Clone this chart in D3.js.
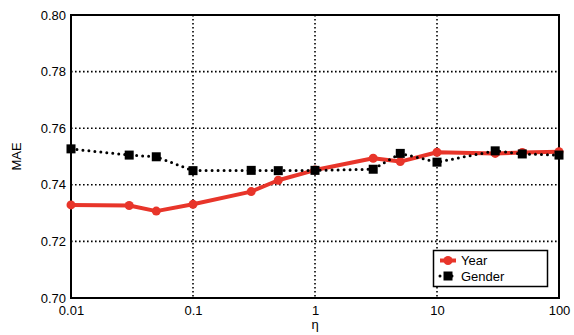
<!DOCTYPE html>
<html>
<head>
<meta charset="utf-8">
<script src="https://cdn.jsdelivr.net/npm/d3@7"></script>
<style>
  html, body { margin: 0; padding: 0; background: #fff; }
  svg { display: block; }
  text { font-family: "Liberation Sans", Arial, Helvetica, sans-serif; fill: #000; }
</style>
</head>
<body>
<svg id="chart" width="574" height="335"></svg>
<script>
// η values on the log axis
const etaValues = [0.01, 0.03, 0.05, 0.1, 0.3, 0.5, 1, 3, 5, 10, 30, 50, 100];
// MAE per η for each side-information type
const yearMAE   = [0.7329, 0.7327, 0.7307, 0.7331, 0.7376, 0.7416, 0.7452, 0.7494, 0.7482, 0.7515, 0.7511, 0.7514, 0.7517];
const genderMAE = [0.7527, 0.7505, 0.7499, 0.7450, 0.7451, 0.7450, 0.7451, 0.7455, 0.7511, 0.7480, 0.7520, 0.7509, 0.7505];
const xTicks = [0.01, 0.1, 1, 10, 100];
const xTickLabels = ["0.01", "0.1", "1", "10", "100"];
const yTicks = [0.70, 0.72, 0.74, 0.76, 0.78, 0.80];
const seriesNames = ["Year", "Gender"];

const svg = d3.select("#chart");
const margin = { left: 71, top: 15, right: 574 - 559, bottom: 335 - 298 };
const W = 574 - margin.left - margin.right;
const H = 335 - margin.top - margin.bottom;

const x = d3.scaleLog().domain([0.01, 100]).range([margin.left, margin.left + W]);
const y = d3.scaleLinear().domain([0.70, 0.80]).range([margin.top + H, margin.top]);

const RED = "#e8352a";

// grid lines (dotted), interior only
const grid = svg.append("g");
grid.selectAll("line.gx").data(xTicks.slice(1, -1)).join("line")
  .attr("x1", d => x(d)).attr("x2", d => x(d))
  .attr("y1", margin.top).attr("y2", margin.top + H)
  .attr("stroke", "#000").attr("stroke-width", 1.6)
  .attr("stroke-dasharray", "1.6 2.4");
grid.selectAll("line.gy").data(yTicks.slice(1, -1)).join("line")
  .attr("x1", margin.left).attr("x2", margin.left + W)
  .attr("y1", d => y(d)).attr("y2", d => y(d))
  .attr("stroke", "#000").attr("stroke-width", 1.6)
  .attr("stroke-dasharray", "1.6 2.4");

// axes
const xAxis = d3.axisBottom(x).tickValues(xTicks)
  .tickFormat((d, i) => xTickLabels[i]).tickSize(0).tickPadding(5);
const yAxis = d3.axisLeft(y).tickValues(yTicks)
  .tickFormat(d3.format(".2f")).tickSize(0).tickPadding(5);

const gx = svg.append("g").attr("transform", `translate(0,${margin.top + H})`).call(xAxis);
const gy = svg.append("g").attr("transform", `translate(${margin.left},0)`).call(yAxis);
[gx, gy].forEach(g => {
  g.select(".domain").remove();
  g.selectAll("text").attr("font-size", 13).attr("font-family", "Liberation Sans, Arial, sans-serif").attr("fill", "#000");
});
gx.selectAll("text").attr("dy", "0.9em");

// frame
svg.append("rect")
  .attr("x", margin.left).attr("y", margin.top)
  .attr("width", W).attr("height", H)
  .attr("fill", "none").attr("stroke", "#000").attr("stroke-width", 2);

// axis titles
svg.append("text")
  .attr("transform", `translate(21,${margin.top + H / 2}) rotate(-90)`)
  .attr("text-anchor", "middle").attr("font-size", 13).text("MAE");
svg.append("text")
  .attr("x", x(1)).attr("y", 329)
  .attr("text-anchor", "middle").attr("font-size", 13).text("η");

const line = d3.line().x(d => x(d[0])).y(d => y(d[1]));
const yearPts = etaValues.map((e, i) => [e, yearMAE[i]]);
const genderPts = etaValues.map((e, i) => [e, genderMAE[i]]);

// Year series
svg.append("path").datum(yearPts).attr("d", line)
  .attr("fill", "none").attr("stroke", RED).attr("stroke-width", 4)
  .attr("stroke-linejoin", "round");
svg.append("g").selectAll("circle").data(yearPts).join("circle")
  .attr("cx", d => x(d[0])).attr("cy", d => y(d[1])).attr("r", 4.5)
  .attr("fill", RED);

// Gender series
svg.append("path").datum(genderPts).attr("d", line)
  .attr("fill", "none").attr("stroke", "#000").attr("stroke-width", 3)
  .attr("stroke-linecap", "round").attr("stroke-dasharray", "0 6");
const sq = 9;
svg.append("g").selectAll("rect").data(genderPts).join("rect")
  .attr("x", d => x(d[0]) - sq / 2).attr("y", d => y(d[1]) - sq / 2)
  .attr("width", sq).attr("height", sq).attr("fill", "#000");

// legend
const lg = svg.append("g");
lg.append("rect").attr("x", 433.5).attr("y", 250.5).attr("width", 114).attr("height", 36)
  .attr("fill", "#fff").attr("stroke", "#000").attr("stroke-width", 1.5);
const legendRows = [
  { name: seriesNames[0], y: 260.5 },
  { name: seriesNames[1], y: 276 }
];
// Year swatch
lg.append("line").attr("x1", 440).attr("x2", 456).attr("y1", legendRows[0].y).attr("y2", legendRows[0].y)
  .attr("stroke", RED).attr("stroke-width", 4);
lg.append("circle").attr("cx", 448).attr("cy", legendRows[0].y).attr("r", 4.5).attr("fill", RED);
// Gender swatch
lg.append("line").attr("x1", 440).attr("x2", 456).attr("y1", legendRows[1].y).attr("y2", legendRows[1].y)
  .attr("stroke", "#000").attr("stroke-width", 3).attr("stroke-linecap", "round").attr("stroke-dasharray", "0 6");
lg.append("rect").attr("x", 448 - sq / 2).attr("y", legendRows[1].y - sq / 2).attr("width", sq).attr("height", sq).attr("fill", "#000");
lg.selectAll("text").data(legendRows).join("text")
  .attr("x", 461).attr("y", d => d.y).attr("dy", "0.36em")
  .attr("font-size", 13).text(d => d.name);
</script>
</body>
</html>
